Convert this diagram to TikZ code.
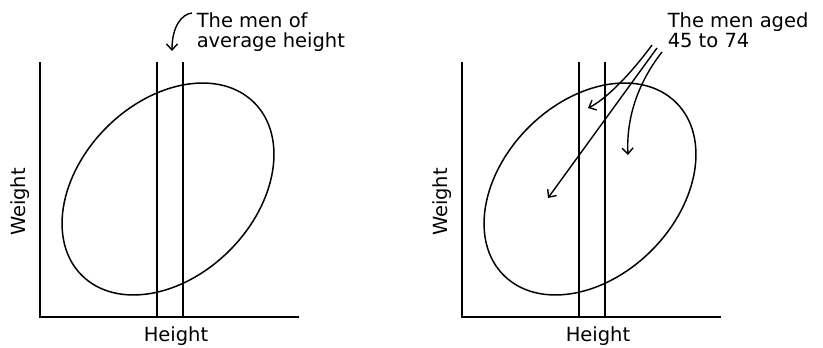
\documentclass[tikz,border=0pt]{standalone}
\usepackage{fontspec}
\setmainfont{DejaVu Sans}
\usetikzlibrary{arrows.meta}
\begin{document}
\begin{tikzpicture}[x=1pt,y=-1pt, line width=1.5pt,
  lbl/.style={font=\fontsize{19.5}{20}\selectfont, inner sep=0pt, align=left},
  arr/.style={-{Straight Barb[length=6pt,width=11pt]}, line width=1.4pt}]
\useasboundingbox (0,0) rectangle (823,348);
\foreach \dx/\nm in {0/L,422/R}{
  \begin{scope}[xshift=\dx pt]
    \draw (40,62) -- (40,317) -- (299,317);
    \draw (157,62) -- (157,317);
    \draw (183,62) -- (183,317);
    \begin{scope}[shift={(168,189)}, rotate=45]
      \draw (0,0) ellipse [x radius=122, y radius=87];
    \end{scope}
    \node[lbl, rotate=90] (w\nm) at (20,202) {Weight};
    \node[lbl] (h\nm) at (176,336) {Height};
  \end{scope}
}
\node[lbl, anchor=north west] (avg) at (196,12) {The men of\\average height};
\coordinate (avgtip) at (172,51);
\draw[arr] ([shift={(-4,1)}]avg.north west) .. controls (182,14) and (172,26) .. (avgtip);
\node[lbl, anchor=north west] (aged) at (667,12) {The men aged\\45 to 74};
\coordinate (t1) at (588,108);
\coordinate (t2) at (548,198);
\coordinate (t3) at (628,155);
\draw[arr] ([shift={(-15,33)}]aged.north west) .. controls (630,75) and (605,100) .. (t1);
\draw[arr] ([shift={(-10,36)}]aged.north west) -- (t2);
\draw[arr] ([shift={(-5,40)}]aged.north west) .. controls (640,80) and (626,115) .. (t3);
\end{tikzpicture}
\end{document}
